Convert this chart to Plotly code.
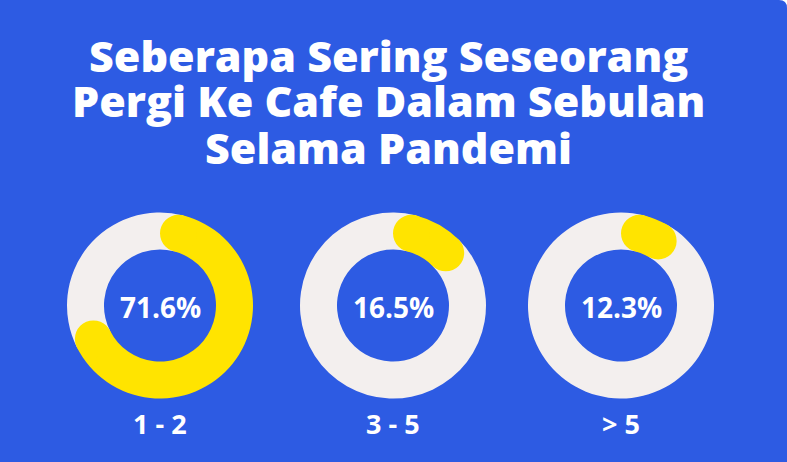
import math
import plotly.graph_objects as go

# data
categories = ["1 - 2", "3 - 5", "> 5"]
shares = [71.6, 16.5, 12.3]
title_lines = ["Seberapa Sering Seseorang", "Pergi Ke Cafe Dalam Sebulan", "Selama Pandemi"]

W, H = 787, 462
BLUE = "#2D5BE3"
YELLOW = "#FFE400"
GREY = "#F3EFEE"
FONT = "Open Sans"

# ring geometry (pixels)
centers_x = [160, 393, 621]
center_y = 305.5
R_out, R_in = 93, 56
r_mid = (R_out + R_in) / 2
cap_r = (R_out - R_in) / 2
delta = math.degrees(math.asin(cap_r / r_mid))

fig = go.Figure()
shapes = []
annotations = []

for cx, cat, v in zip(centers_x, categories, shares):
    deg = 360 * v / 100
    fig.add_trace(go.Pie(
        values=[deg - 2 * delta, 360 - deg + 2 * delta],
        labels=[cat, "rest"],
        marker=dict(colors=[YELLOW, GREY], line=dict(width=0)),
        hole=R_in / R_out,
        rotation=delta,
        direction="clockwise",
        sort=False,
        textinfo="none",
        hoverinfo="skip",
        showlegend=False,
        domain=dict(x=[(cx - R_out) / W, (cx + R_out) / W],
                    y=[(H - center_y - R_out) / H, (H - center_y + R_out) / H]),
    ))
    # rounded ends of the yellow arc
    for ang in (delta, deg - delta):
        px = cx + r_mid * math.sin(math.radians(ang))
        py = H - center_y + r_mid * math.cos(math.radians(ang))
        shapes.append(dict(type="circle", xref="paper", yref="paper",
                           x0=(px - cap_r) / W, x1=(px + cap_r) / W,
                           y0=(py - cap_r) / H, y1=(py + cap_r) / H,
                           fillcolor=YELLOW, line=dict(width=0), layer="above"))
    annotations.append(dict(text=f"{v}%", x=cx / W, y=(H - 307) / H,
                            xref="paper", yref="paper", showarrow=False,
                            xanchor="center", yanchor="middle",
                            font=dict(family=FONT, size=28, color="white", weight=700)))
    annotations.append(dict(text=cat, x=cx / W, y=(H - 423) / H,
                            xref="paper", yref="paper", showarrow=False,
                            xanchor="center", yanchor="middle",
                            font=dict(family=FONT, size=27, color="white", weight=700)))

for line, ty in zip(title_lines, [55, 101, 147]):
    annotations.append(dict(text=line, x=388 / W, y=(H - ty) / H,
                            xref="paper", yref="paper", showarrow=False,
                            xanchor="center", yanchor="middle",
                            font=dict(family=FONT, size=43, color="white", weight=800)))

# white rounded corner at top right
shapes.append(dict(type="path", xref="paper", yref="paper",
                   path=f"M {779/W},1 Q 1,1 1,{(H-8)/H} L 1,1 Z",
                   fillcolor="white", line=dict(width=0), layer="above"))

fig.update_layout(
    width=W, height=H,
    margin=dict(l=0, r=0, t=0, b=0),
    paper_bgcolor=BLUE,
    plot_bgcolor=BLUE,
    shapes=shapes,
    annotations=annotations,
)

fig.write_html("out.html", config={"displayModeBar": False},
               post_script="document.body.style.margin='0';")
